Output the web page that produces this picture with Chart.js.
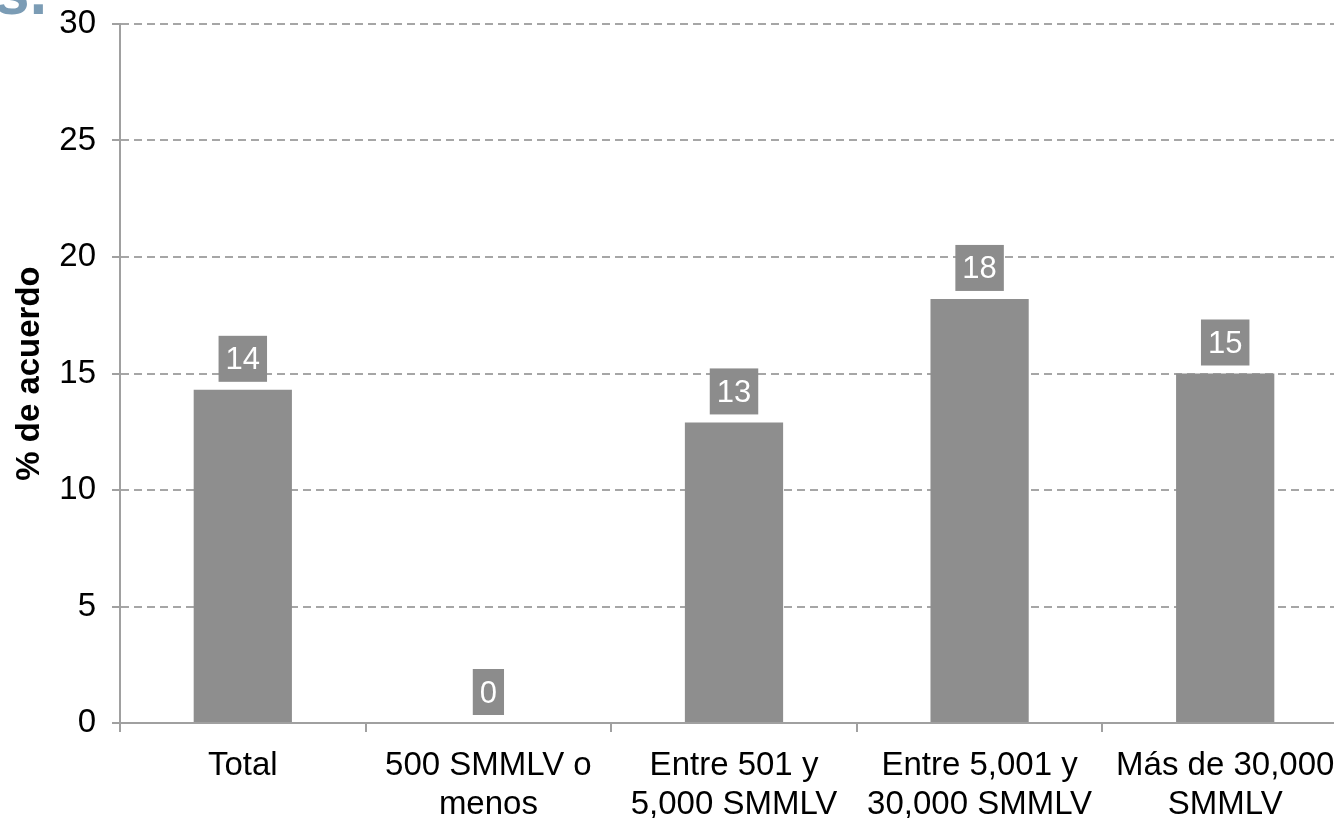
<!DOCTYPE html>
<html>
<head>
<meta charset="utf-8">
<script src="https://cdn.jsdelivr.net/npm/chart.js@4/dist/chart.umd.min.js"></script>
<style>
  html, body { margin: 0; padding: 0; background: #fff; overflow: hidden; }
  #wrap { position: relative; width: 1334px; height: 818px; overflow: hidden; }
  #frag { position: absolute; left: -6px; top: -40px; font: bold 64px "Liberation Sans", Arial, sans-serif; line-height: 64px; color: #7b9cb5; }
  canvas { position: absolute; left: 0; top: 0; }
</style>
</head>
<body>
<div id="wrap">
  <canvas id="myChart" width="1350" height="818"></canvas>
  <div id="frag">s.</div>
</div>
<script>
// Datos
const categories = [
  'Total',
  ['500 SMMLV o', 'menos'],
  ['Entre 501 y', '5,000 SMMLV'],
  ['Entre 5,001 y', '30,000 SMMLV'],
  ['Más de 30,000', 'SMMLV']
];
const values = [14.3, 0, 12.9, 18.2, 15.0];
const valueLabels = ['14', '0', '13', '18', '15'];
const yTicks = [0, 5, 10, 15, 20, 25, 30];

const FONT = '"Liberation Sans", Arial, sans-serif';
const GRAY = '#8e8e8e';

// Etiquetas con caja gris sobre cada barra
const boxLabels = {
  id: 'boxLabels',
  afterDatasetsDraw(chart) {
    const ctx = chart.ctx;
    const meta = chart.getDatasetMeta(0);
    ctx.save();
    ctx.font = '31px ' + FONT;
    ctx.textAlign = 'center';
    ctx.textBaseline = 'middle';
    meta.data.forEach((bar, i) => {
      const txt = valueLabels[i];
      const w = ctx.measureText(txt).width + 14;
      const h = 46;
      const bottom = bar.y - 8;
      ctx.fillStyle = '#8c8c8c';
      ctx.fillRect(bar.x - w / 2, bottom - h, w, h);
      ctx.fillStyle = '#ffffff';
      ctx.fillText(txt, bar.x, bottom - h / 2 + 2);
    });
    ctx.restore();
  }
};

const config = {
  type: 'bar',
  data: {
    labels: categories,
    datasets: [{
      data: values,
      backgroundColor: GRAY,
      borderWidth: 0,
      barPercentage: 0.4,
      categoryPercentage: 1.0
    }]
  },
  options: {
    responsive: false,
    animation: false,
    layout: { padding: { top: 24, right: 2, left: 0, bottom: 0 } },
    plugins: {
      legend: { display: false },
      tooltip: { enabled: false },
      title: { display: false }
    },
    scales: {
      x: {
        offset: true,
        grid: {
          offset: true,
          drawOnChartArea: false,
          drawTicks: true,
          tickLength: 9,
          color: '#a0a0a0',
          lineWidth: 2
        },
        border: { display: true, color: '#a0a0a0', width: 2 },
        ticks: {
          color: '#000',
          font: { family: FONT, size: 33 },
          padding: 14,
          maxRotation: 0,
          autoSkip: false
        },
        afterFit(scale) { scale.height = 95; scale.paddingLeft = 0; scale.paddingRight = 0; }
      },
      y: {
        min: 0,
        max: 30,
        afterBuildTicks(scale) { scale.ticks = yTicks.map(v => ({ value: v })); },
        grid: {
          color: '#a6a6a6',
          lineWidth: 2,
          tickLength: 8,
          tickColor: '#a0a0a0'
        },
        border: { display: true, color: '#a0a0a0', width: 2, dash: [8, 5] },
        ticks: {
          color: '#000',
          font: { family: FONT, size: 33 },
          padding: 16
        },
        title: {
          display: true,
          text: '% de acuerdo',
          color: '#000',
          font: { family: FONT, size: 33, weight: 'bold' },
          padding: { top: 10, bottom: 0 }
        },
        afterFit(scale) { scale.width = 120; scale.paddingTop = 0; scale.paddingBottom = 0; }
      }
    }
  },
  plugins: [boxLabels]
};

const myChart = new Chart(document.getElementById('myChart'), config);
</script>
</body>
</html>
